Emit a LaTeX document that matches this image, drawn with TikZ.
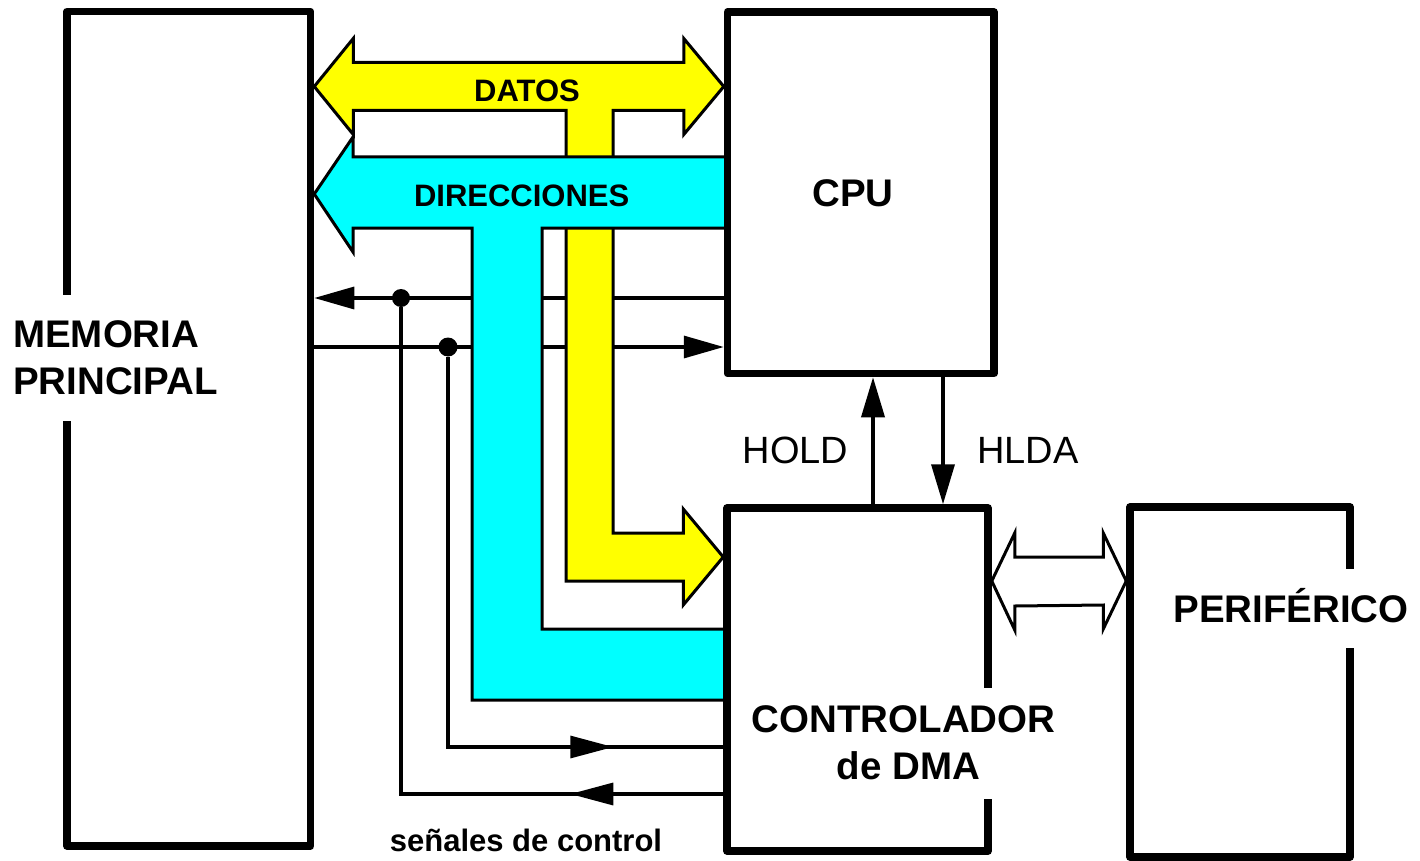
\documentclass[tikz,border=0pt]{standalone}
\usepackage{fontspec}
\setmainfont{Liberation Sans}
\usetikzlibrary{arrows.meta,calc,decorations.markings}
\pgfdeclarelayer{fg}
\pgfdeclarelayer{top}
\pgfsetlayers{main,fg,top}
\definecolor{busyellow}{RGB}{255,255,0}
\definecolor{buscyan}{RGB}{0,255,255}
\begin{document}
\begin{tikzpicture}[x=1pt,y=-1pt,
  box/.style={draw=black, line width=7.5pt, rectangle, inner sep=0pt, line join=round},
  ctl/.style={line width=3.3pt},
  sig/.style={line width=3.6pt},
  bus/.style={draw=black, line width=3pt, line join=miter},
  dotnode/.style={circle, fill=black, inner sep=0pt},
  biglbl/.style={font=\fontsize{38.5}{47}\selectfont\bfseries, inner sep=0pt},
  buslbl/.style={font=\fontsize{31}{37}\selectfont\bfseries, inner sep=0pt},
  reglbl/.style={font=\fontsize{38}{46}\selectfont, inner sep=0pt},
  endtip/.style={-{Triangle[length=40pt,width=22pt]}},
  midleft/.style={decoration={markings, mark=at position #1 with {\arrow{Triangle[length=43pt,width=22pt]}}}, postaction={decorate}}
]
\useasboundingbox (0,0) rectangle (1420,861);

% boxes (on foreground layer)
\begin{pgfonlayer}{fg}
\node[box, minimum width=243.5pt, minimum height=834.5pt] (mem) at (188.75,428.75) {};
\node[box, minimum width=266.5pt, minimum height=361.5pt] (cpu) at (860.75,192.75) {};
\node[box, minimum width=261pt, minimum height=343pt] (dma) at (857.5,679.5) {};
\node[box, minimum width=220pt, minimum height=350pt] (per) at (1240,682) {};
\end{pgfonlayer}

% junction dots
\node[dotnode, minimum size=18pt] (d1) at (401,298) {};
\node[dotnode, minimum size=19pt] (d2) at (448,347) {};

% control lines
\draw[ctl, endtip] (cpu.west |- d1) -- (mem.east |- d1);
\draw[ctl, endtip] (mem.east |- d2) -- (cpu.west |- d2);
\draw[ctl, midleft=153pt] (dma.west |- 0,794) -- (d1 |- 0,794) -- (d1);
\draw[ctl, midleft=-110pt] (d2) -- (d2 |- 0,747) -- (dma.west |- 0,747);

% DATOS bus (yellow)
\path[bus, fill=busyellow]
  (mem.east |- 0,86.5) coordinate (yl)
  -- ++(39,-48) -- ++(0,24)
  -- ($(cpu.west |- 0,86.5)+(-40,-24)$) -- ++(0,-24)
  -- (cpu.west |- 0,86.5) -- ++(-40,48) -- ++(0,-24)
  -- (613,110.5) -- (613,533)
  -- ($(dma.west |- 0,557)+(-40,-24)$) -- ++(0,-24)
  -- (dma.west |- 0,557) -- ++(-40,48) -- ++(0,-24)
  -- (566,581) -- (566,110.5)
  -- ($(yl)+(39,24)$) -- ++(0,24) -- cycle;

% DIRECCIONES bus (cyan)
\path[bus, fill=buscyan]
  ($(cpu.west |- 0,157)+(4,0)$) -- (353,157) -- (353,137)
  -- (mem.east |- 0,194) -- (353,252) -- (353,228)
  -- (472,228) -- (472,700)
  -- ($(dma.west |- 0,700)+(4,0)$) -- ($(dma.west |- 0,629)+(4,0)$)
  -- (542,629) -- (542,228)
  -- ($(cpu.west |- 0,228)+(4,0)$) -- cycle;

% peripheral bus (white double arrow)
\path[bus, fill=white]
  (dma.east |- 0,581) coordinate (pl)
  -- ++(23,-48) -- ++(0,24)
  -- ($(per.west |- 0,581)+(-23,-24)$) -- ++(0,-24)
  -- (per.west |- 0,581) -- ++(-23,48) -- ++(0,-24)
  -- ($(pl)+(23,25)$) -- ++(0,24) -- cycle;

% HOLD / HLDA
\draw[sig, -{Triangle[length=40pt,width=23pt]}] (dma.north -| 873,0) -- (cpu.south -| 873,0);
\draw[sig, -{Triangle[length=40pt,width=23pt]}] (cpu.south -| 943,0) -- (dma.north -| 943,0);

% labels
\begin{pgfonlayer}{top}
\node[biglbl, fill=white, align=left, anchor=west, minimum height=126pt] (memlbl) at (13,358) {MEMORIA\\PRINCIPAL};
\node[biglbl, anchor=base] (cpulbl) at (853,206) {CPU};
\node[biglbl, fill=white, align=center, minimum height=111pt] (dmalbl) at (903.5,743) {CONTROLADOR\\\hspace*{10pt}de DMA};
\node[biglbl, fill=white, text height=29pt, text depth=0pt, inner ysep=25pt] (perlbl) at (1291,608) {PERIFÉRICO};
\node[buslbl, anchor=base] (datlbl) at (527,101.7) {DATOS};
\node[buslbl, anchor=base] (dirlbl) at (521.7,206.7) {DIRECCIONES};
\node[buslbl, anchor=base] (ctllbl) at (526,851.7) {señales de control};
\node[reglbl, anchor=base] (holdlbl) at (795.5,463) {HOLD};
\node[reglbl, anchor=base] (hldalbl) at (1028,463) {HLDA};
\end{pgfonlayer}
\end{tikzpicture}
\end{document}
